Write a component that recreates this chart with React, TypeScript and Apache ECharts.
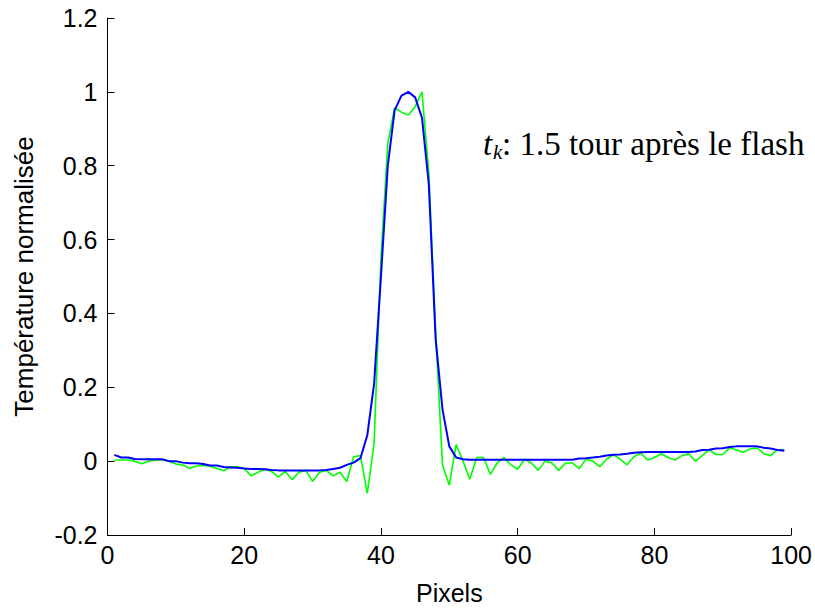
import React, { useEffect, useRef } from "react";
import * as echarts from "echarts";

// Pixel index 1..99 (x), normalised temperature (y)
const blueValues = [
  0.017, 0.010, 0.010, 0.006, 0.005, 0.005, 0.005, 0.005, 0.000, 0.000,
  -0.004, -0.006, -0.006, -0.008, -0.012, -0.012, -0.016, -0.017, -0.018, -0.020,
  -0.021, -0.021, -0.022, -0.024, -0.025, -0.025, -0.025, -0.025, -0.025, -0.025,
  -0.025, -0.024, -0.021, -0.018, -0.010, -0.004, 0.008, 0.07, 0.21, 0.50,
  0.80, 0.95, 0.99, 1.00, 0.985, 0.93, 0.75, 0.33, 0.14, 0.04,
  0.010, 0.005, 0.004, 0.004, 0.004, 0.004, 0.004, 0.004, 0.004, 0.004,
  0.004, 0.004, 0.004, 0.004, 0.004, 0.004, 0.004, 0.004, 0.007, 0.008,
  0.010, 0.012, 0.015, 0.017, 0.018, 0.020, 0.023, 0.024, 0.025, 0.025,
  0.025, 0.025, 0.025, 0.025, 0.025, 0.026, 0.030, 0.031, 0.034, 0.035,
  0.038, 0.040, 0.040, 0.040, 0.040, 0.036, 0.034, 0.030, 0.028,
];

const greenValues = [
  0.003, 0.003, 0.003, 0.000, -0.007, 0.000, 0.003, 0.003, 0.000, -0.008,
  -0.010, -0.020, -0.013, -0.012, -0.014, -0.020, -0.026, -0.015, -0.015, -0.020,
  -0.040, -0.030, -0.022, -0.028, -0.043, -0.028, -0.050, -0.030, -0.025, -0.055,
  -0.030, -0.025, -0.040, -0.030, -0.055, 0.012, 0.015, -0.087, 0.05, 0.55,
  0.86, 0.957, 0.945, 0.937, 0.96, 1.00, 0.78, 0.35, -0.010, -0.065,
  0.045, 0.000, -0.049, 0.010, 0.010, -0.036, -0.005, 0.010, -0.010, -0.022,
  0.005, -0.005, -0.025, 0.000, -0.005, -0.025, -0.005, -0.005, -0.020, 0.005,
  0.000, -0.015, 0.005, 0.018, 0.005, -0.010, 0.012, 0.022, 0.003, 0.010,
  0.020, 0.010, 0.003, 0.015, 0.020, 0.000, 0.015, 0.031, 0.018, 0.018,
  0.036, 0.030, 0.024, 0.033, 0.036, 0.020, 0.015, 0.031, 0.030,
];

const xAxisRange = [0, 100];
const yAxisRange = [-0.2, 1.2];
const xTickStep = 20;
const yTickStep = 0.2;

const xLabel = "Pixels";
const yLabel = "Température normalisée";
const annotationMain = ": 1.5 tour après le flash";

const sans = "'Liberation Sans', Arial, sans-serif";
const serif = "'Liberation Serif', 'Times New Roman', serif";

export default function App() {
  const ref = useRef<HTMLDivElement>(null);

  useEffect(() => {
    if (!ref.current) return;
    const chart = echarts.init(ref.current, null, { renderer: "svg" });
    const toPairs = (arr: number[]) => arr.map((v, i) => [i + 1, v]);

    chart.setOption({
      animation: false,
      backgroundColor: "#ffffff",
      grid: { left: 107.5, right: 22.5, top: 18, bottom: 70, containLabel: false },
      xAxis: {
        type: "value",
        min: xAxisRange[0],
        max: xAxisRange[1],
        interval: xTickStep,
        name: xLabel,
        nameLocation: "middle",
        nameGap: 45,
        nameTextStyle: { fontFamily: sans, fontSize: 25, color: "#000" },
        axisLine: { show: true, onZero: false, lineStyle: { color: "#000", width: 1 } },
        axisTick: { show: true, inside: true, length: 7, lineStyle: { color: "#000" } },
        axisLabel: { fontFamily: sans, fontSize: 25, color: "#000", margin: 7 },
        splitLine: { show: false },
      },
      yAxis: {
        type: "value",
        min: yAxisRange[0],
        max: yAxisRange[1],
        interval: yTickStep,
        name: yLabel,
        nameLocation: "middle",
        nameGap: 71,
        nameRotate: 90,
        nameTextStyle: { fontFamily: sans, fontSize: 26, color: "#000" },
        axisLine: { show: true, onZero: false, lineStyle: { color: "#000", width: 1 } },
        axisTick: { show: true, inside: true, length: 7, lineStyle: { color: "#000" } },
        axisLabel: { fontFamily: sans, fontSize: 25, color: "#000", margin: 10 },
        splitLine: { show: false },
      },
      series: [
        {
          type: "line",
          data: toPairs(greenValues),
          showSymbol: false,
          lineStyle: { color: "#00ff00", width: 1.6 },
          z: 2,
        },
        {
          type: "line",
          data: toPairs(blueValues),
          showSymbol: false,
          lineStyle: { color: "#0000ff", width: 2 },
          z: 3,
        },
      ],
      graphic: [
        {
          type: "text",
          x: 483,
          y: 144,
          style: {
            text: "t",
            fontFamily: serif,
            fontStyle: "italic",
            fontSize: 33,
            fill: "#000",
            align: "left",
            verticalAlign: "middle",
          },
        },
        {
          type: "text",
          x: 493,
          y: 152,
          style: {
            text: "k",
            fontFamily: serif,
            fontStyle: "italic",
            fontSize: 21,
            fill: "#000",
            align: "left",
            verticalAlign: "middle",
          },
        },
        {
          type: "text",
          x: 502,
          y: 144,
          style: {
            text: annotationMain,
            fontFamily: serif,
            fontSize: 33,
            fill: "#000",
            align: "left",
            verticalAlign: "middle",
          },
        },
      ],
    });

    return () => chart.dispose();
  }, []);

  return (
    <div
      ref={ref}
      style={{ position: "fixed", left: 0, top: 0, width: 815, height: 610, background: "#fff" }}
    />
  );
}
